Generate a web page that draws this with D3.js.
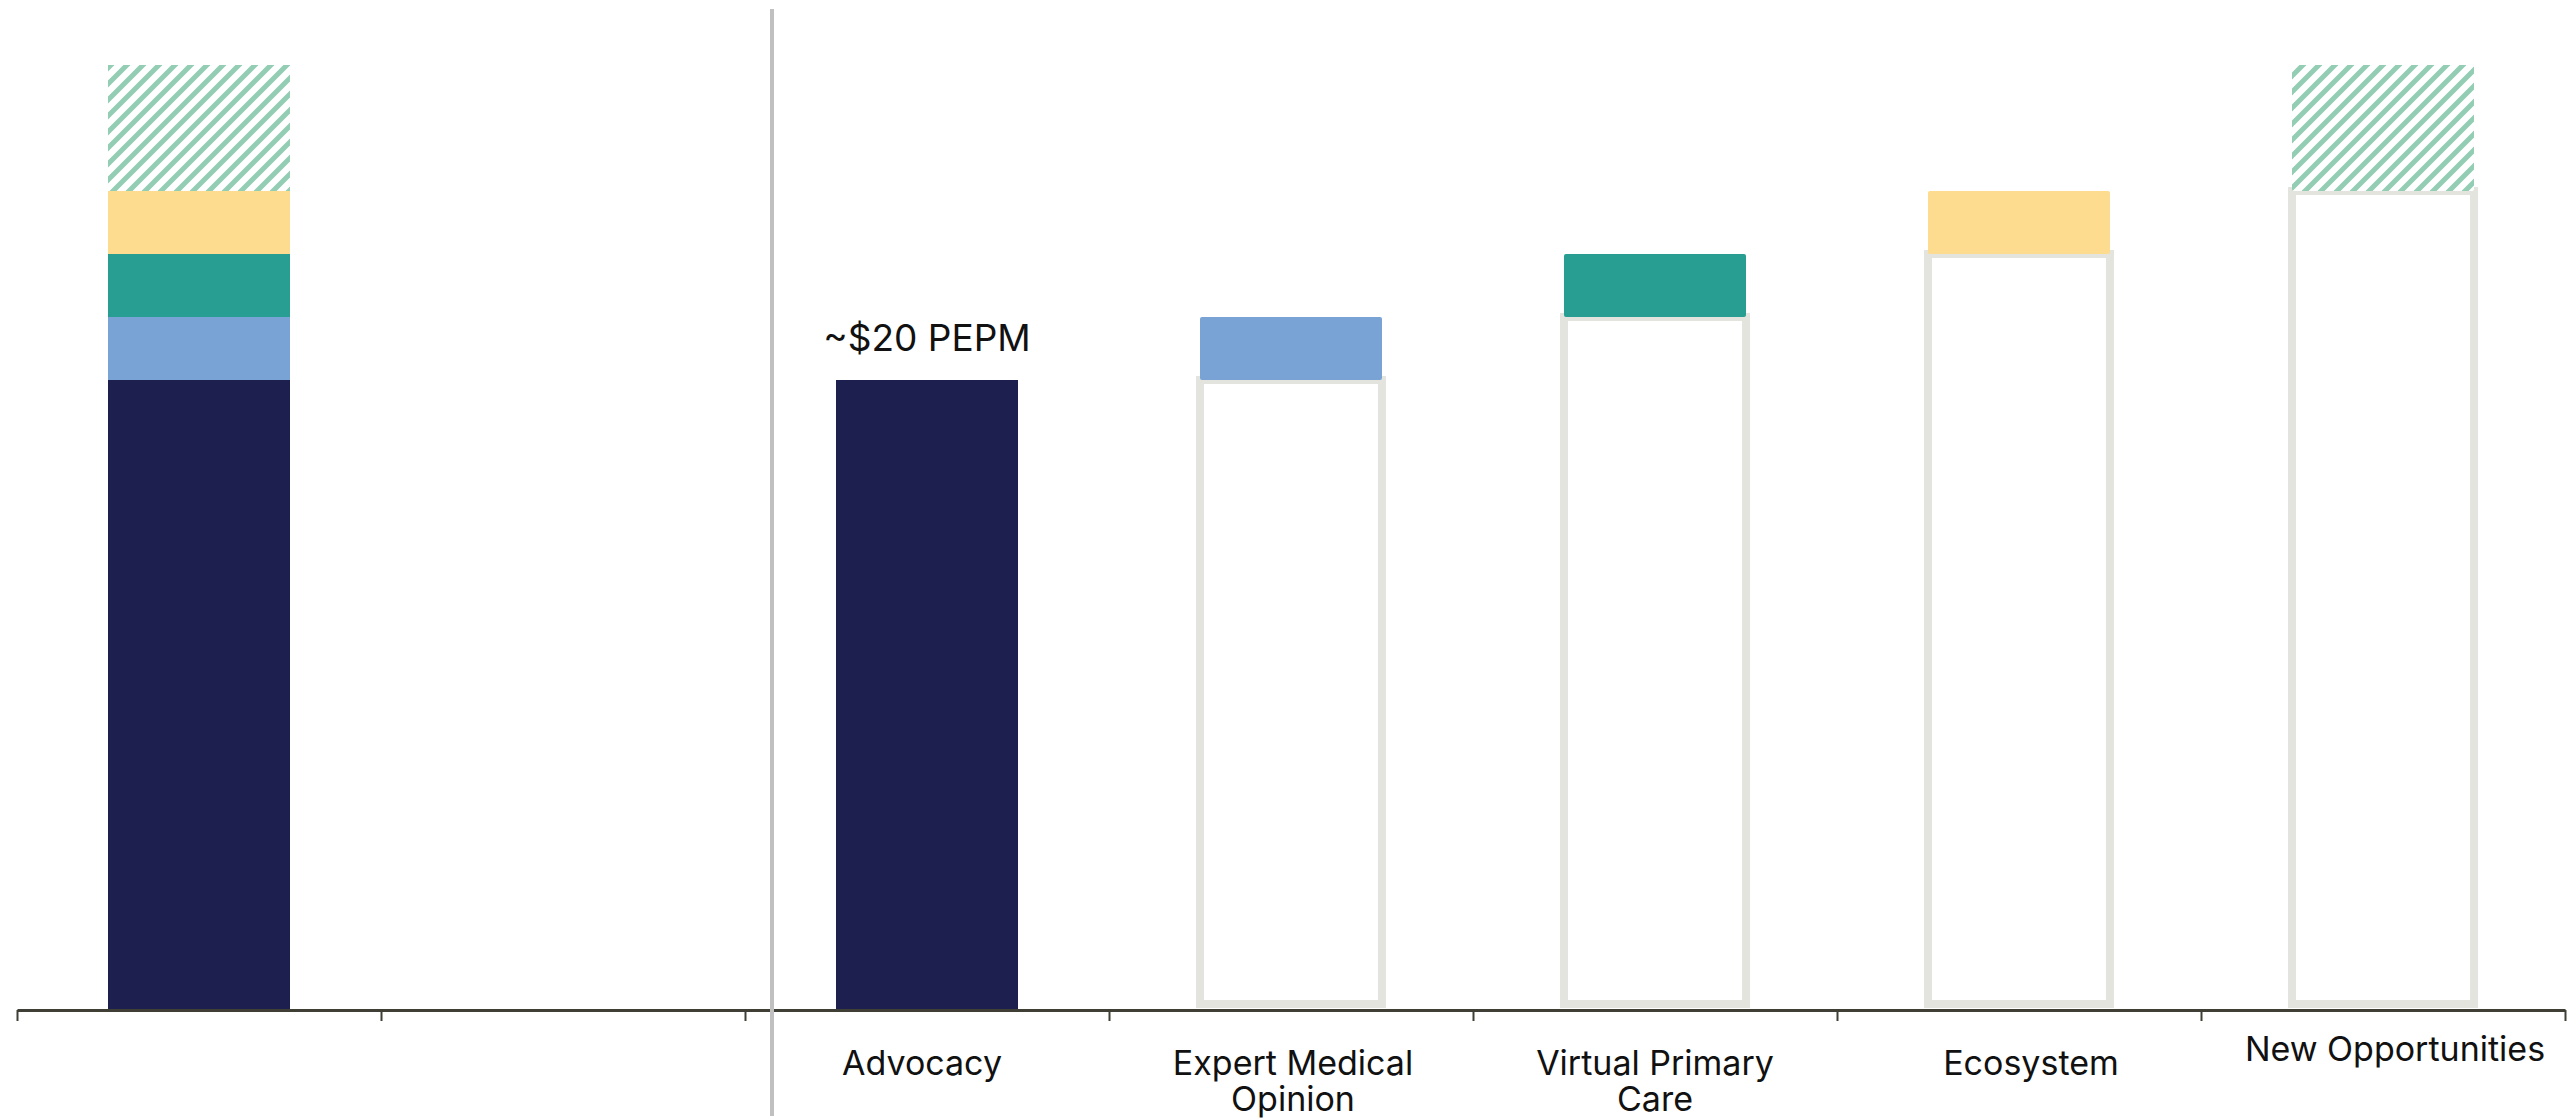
<!DOCTYPE html>
<html>
<head>
<meta charset="utf-8">
<script src="https://cdn.jsdelivr.net/npm/d3@7"></script>
<style>
  body { margin: 0; background: #fff; }
  text { font-family: Inter, "Noto Sans", sans-serif; fill: #111; }
</style>
</head>
<body>
<div class="chart"></div>
<script>
var width = 2569;
var height = 1120;

// data
var segmentNames = ["Advocacy", "Expert Medical Opinion", "Virtual Primary Care", "Ecosystem", "New Opportunities"];
var segmentValues = [20, 2, 2, 2, 4];
var slotLabels = ["", "", "Advocacy", "Expert Medical Opinion", "Virtual Primary Care", "Ecosystem", "New Opportunities"];
var valueLabel = "~$20 PEPM";

var colors = ["#1d1f4e", "#7aa3d5", "#279e91", "#fddb8f", "url(#hatch)"];
// small hand nudges for the category labels [dx, dy]
var labelNudge = [[0, 0], [0, 0], [-5, 0], [2, 0], [0, 0], [12, 0], [12, -14]];

var svg = d3.select(".chart").append("svg")
            .attr("width", width)
            .attr("height", height);

var defs = svg.append("defs");
var pat = defs.append("pattern")
              .attr("id", "hatch")
              .attr("patternUnits", "userSpaceOnUse")
              .attr("width", 16)
              .attr("height", 16);
pat.append("rect").attr("width", 16).attr("height", 16).attr("fill", "#fff");
pat.append("path")
   .attr("d", "M-4,4 L4,-4 M0,16 L16,0 M12,20 L20,12")
   .attr("stroke", "#93cdb4")
   .attr("stroke-width", 5);

var x = d3.scaleBand()
          .domain(d3.range(slotLabels.length))
          .range([17, 2565])
          .paddingInner(0.5)
          .paddingOuter(0.25);

var xEdge = d3.scaleLinear()
              .domain([0, slotLabels.length])
              .range([17, 2565]);

var y = d3.scaleLinear()
          .domain([0, d3.sum(segmentValues)])
          .range([1010, 65]);

// cumulative starts
var starts = [];
segmentValues.reduce(function(acc, v) { starts.push(acc); return acc + v; }, 0);

// left stacked total bar (slot 0)
svg.append("g").selectAll("rect")
   .data(segmentValues)
   .enter()
   .append("rect")
   .attr("x", x(0))
   .attr("width", x.bandwidth())
   .attr("y", function(d, i) { return y(starts[i] + d); })
   .attr("height", function(d, i) { return y(starts[i]) - y(starts[i] + d); })
   .attr("fill", function(d, i) { return colors[i]; });

// right waterfall (slots 2..6)
var slotOf = function(i) { return slotLabels.indexOf(segmentNames[i]); };

svg.append("g").selectAll("rect")
   .data(segmentValues.slice(1))
   .enter()
   .append("rect")
   .attr("x", function(d, i) { return x(slotOf(i + 1)); })
   .attr("width", x.bandwidth())
   .attr("y", function(d, i) { return y(starts[i + 1]); })
   .attr("height", function(d, i) { return y(0) - 6 - y(starts[i + 1]); })
   .attr("fill", "#fff")
   .attr("stroke", "#e4e4de")
   .attr("stroke-width", 8);

svg.append("g").selectAll("rect")
   .data(segmentValues)
   .enter()
   .append("rect")
   .attr("x", function(d, i) { return x(slotOf(i)); })
   .attr("width", x.bandwidth())
   .attr("y", function(d, i) { return y(starts[i] + d); })
   .attr("height", function(d, i) { return y(starts[i]) - y(starts[i] + d); })
   .attr("rx", function(d, i) { return i == 0 ? 0 : 2; })
   .attr("fill", function(d, i) { return colors[i]; });

svg.append("text")
   .attr("x", x(slotOf(0)) + x.bandwidth() / 2)
   .attr("y", y(segmentValues[0]) - 29)
   .attr("text-anchor", "middle")
   .style("font-size", "37px")
   .text(valueLabel);

// axis with ticks on slot edges
var axis = svg.append("g")
              .attr("transform", "translate(0," + y(0) + ")")
              .call(d3.axisBottom(xEdge)
                      .tickValues(d3.range(slotLabels.length + 1))
                      .tickFormat("")
                      .tickSize(11)
                      .tickSizeOuter(0));
axis.select(".domain").attr("stroke", "#3f3f35").attr("stroke-width", 3);
axis.selectAll(".tick line").attr("stroke", "#3f3f35").attr("stroke-width", 2);

// category labels, wrapped to the slot width
var labels = svg.append("g").selectAll("text")
   .data(slotLabels)
   .enter()
   .append("text")
   .attr("text-anchor", "middle")
   .style("font-size", "34px")
   .attr("transform", function(d, i) {
       return "translate(" + (x(i) + x.bandwidth() / 2 + labelNudge[i][0]) + "," + (1075 + labelNudge[i][1]) + ")";
   });

labels.each(function(d) {
    var el = d3.select(this);
    var words = d.split(" ");
    var line = [];
    var tspan = el.append("tspan").attr("x", 0).attr("dy", 0);
    words.forEach(function(w) {
        line.push(w);
        tspan.text(line.join(" "));
        if (tspan.node().getComputedTextLength() > x.step() * 0.85 && line.length > 1) {
            line.pop();
            tspan.text(line.join(" "));
            line = [w];
            tspan = el.append("tspan").attr("x", 0).attr("dy", 36).text(w);
        }
    });
});

// separator
svg.append("line")
   .attr("x1", x(2) - 64)
   .attr("x2", x(2) - 64)
   .attr("y1", 9)
   .attr("y2", 1116)
   .attr("stroke", "#c0c0c0")
   .attr("stroke-width", 4);
</script>
</body>
</html>
